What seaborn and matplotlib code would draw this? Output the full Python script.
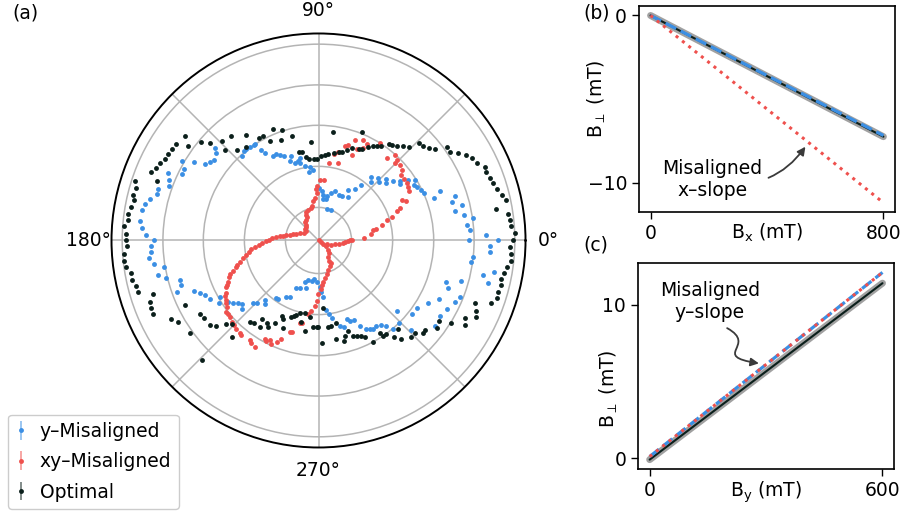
import numpy as np
import matplotlib
matplotlib.use("Agg")
import matplotlib.pyplot as plt
import seaborn as sns
from matplotlib.colors import to_rgba
from matplotlib.path import Path
from matplotlib.patches import FancyArrowPatch

sns.set_style("ticks")
plt.rcParams["font.family"] = ["DejaVu Sans"]
plt.rcParams["mathtext.fontset"] = "dejavusans"
for key in ("text.color", "axes.labelcolor", "xtick.color", "ytick.color"):
    plt.rcParams[key] = "black"

# ---------------------------------------------------------------------------
# (a) in-plane components (u, v) of the perpendicular field during rotation
# ---------------------------------------------------------------------------
optimal_uv = [
    (-399, 312), (-427, 289), (-391, 284), (-439, 274), (-450, 260), (-461, 244),
    (-474, 232), (-488, 217), (-502, 204), (-484, 177), (-551, 179), (-546, 157),
    (-556, 137), (-554, 120), (-562, 99), (-570, 80), (-572, 62), (-584, 42),
    (-576, 20), (-578, 0), (-351, 294), (-326, 292), (-288, 298), (-261, 312),
    (-279, 270), (-243, 270), (-216, 317), (-218, 279), (-179, 307), (-166, 312),
    (-146, 297), (-136, 334), (-108, 332), (-111, 302), (-78, 314), (-22, 295),
    (-58, 266), (-48, 266), (-36, 249), (-28, 244), (-14, 244), (-4, 244),
    (43, 324), (130, 324), (8, 252), (20, 257), (28, 259), (45, 262), (60, 264),
    (71, 265), (86, 270), (100, 277), (120, 275), (131, 275), (148, 280),
    (163, 282), (175, 282), (188, 282), (210, 290), (220, 285), (236, 284),
    (253, 282), (270, 280), (300, 292), (314, 284), (332, 277), (348, 273),
    (386, 281), (394, 266), (418, 262), (443, 257), (461, 246), (476, 232),
    (498, 220), (503, 204), (513, 187), (523, 172), (535, 154), (550, 137),
    (563, 120), (531, 95), (568, 79), (573, 62), (578, 42), (588, 22), (583, 0),
    (575, -20), (578, -40), (578, -60), (566, -78), (556, -98), (546, -116),
    (546, -133), (538, -153), (535, -173), (518, -188), (468, -188), (473, -210),
    (471, -230), (438, -233), (439, -254), (398, -248), (360, -242), (356, -263),
    (320, -268), (314, -278), (288, -278), (278, -288), (246, -294), (238, -264),
    (226, -288), (203, -280), (193, -286), (183, -278), (163, -304), (138, -288),
    (128, -286), (116, -285), (104, -286), (88, -270), (80, -286), (76, -301),
    (53, -294), (53, -248), (38, -255), (28, -260), (13, -203), (10, -306),
    (-2, -258), (-574, -18), (-584, -40), (-584, -60), (-576, -80), (-561, -98),
    (-559, -118), (-546, -136), (-541, -155), (-496, -160), (-506, -183),
    (-501, -202), (-496, -220), (-441, -234), (-421, -243), (-400, -194),
    (-384, -278), (-356, -220), (-343, -232), (-324, -253), (-306, -256),
    (-277, -249), (-260, -250), (-260, -288), (-348, -358), (-206, -243),
    (-194, -246), (-176, -260), (-170, -235), (-154, -248), (-150, -260),
    (-131, -248), (-108, -226), (-106, -236), (-107, -261), (-83, -229),
    (-74, -226), (-66, -224), (-54, -216), (-41, -216), (-26, -230), (-53, -244),
    (-39, -270), (-16, -260), (-5, -260),
]

y_misaligned_uv = [
    (-311, 277), (-308, 262), (-313, 242), (-326, 234), (-341, 230), (-374, 234),
    (-410, 237), (-404, 214), (-408, 199), (-450, 202), (-448, 182), (-448, 162),
    (-480, 155), (-483, 140), (-504, 125), (-519, 110), (-528, 92), (-534, 57),
    (-530, 37), (-516, 17), (-493, 2), (-228, 254), (-224, 267), (-216, 274),
    (-206, 280), (-194, 286), (-189, 289), (-171, 272), (-161, 262), (-136, 252),
    (-126, 259), (-114, 255), (-102, 252), (-86, 237), (-81, 252), (-71, 232),
    (-61, 237), (-54, 247), (-54, 232), (-41, 224), (-26, 220), (-18, 210),
    (-28, 206), (0, 157), (10, 147), (13, 137), (13, 124), (23, 124), (26, 134),
    (36, 142), (48, 147), (60, 137), (70, 134), (88, 152), (88, 130), (110, 155),
    (128, 166), (156, 174), (158, 190), (178, 187), (181, 174), (203, 184),
    (203, 172), (223, 177), (243, 178), (244, 170), (268, 182), (288, 182),
    (286, 167), (296, 160), (308, 152), (316, 142), (346, 127), (363, 147),
    (401, 116), (408, 134), (430, 107), (410, 87), (435, 77), (464, 66),
    (446, 47), (453, 32), (503, 17), (450, 0), (538, 2), (26, 95), (38, 92),
    (513, -18), (513, -36), (463, -48), (456, -64), (493, -104), (508, -126),
    (525, -93), (381, -123), (388, -141), (426, -122), (423, -170), (410, -183),
    (386, -206), (360, -175), (363, -226), (350, -255), (328, -188), (296, -201),
    (281, -219), (278, -268), (236, -212), (241, -248), (224, -266), (203, -256),
    (186, -252), (171, -256), (163, -266), (153, -266), (141, -266), (125, -256),
    (105, -238), (95, -240), (86, -236), (76, -258), (63, -256), (40, -233),
    (32, -220), (23, -208), (13, -170), (6, -154), (3, -138),
    (-501, -18), (-501, -35), (-508, -53), (-493, -70), (-463, -80), (-481, -102),
    (-458, -113), (-416, -118), (-413, -133), (-423, -153), (-373, -150),
    (-356, -156), (-340, -164), (-326, -174), (-296, -168), (-299, -186),
    (-270, -184), (-256, -186), (-242, -188), (-228, -191), (-228, -205),
    (-196, -188), (-184, -188), (-160, -178), (-159, -191), (-126, -173),
    (-121, -176), (-96, -168), (-85, -170), (-66, -141), (-56, -141), (-36, -143),
    (-41, -123), (-31, -118), (-21, -120), (-14, -116), (-6, -123),
]

xy_misaligned_uv = [
    # branch rising from the origin
    (16, 182), (4, 180), (-6, 162), (-8, 154), (-6, 142), (-11, 127), (-16, 117),
    (-21, 104), (-24, 96), (-31, 90), (-36, 84), (-38, 77), (-34, 70), (-38, 62),
    (-41, 54), (-36, 47), (-38, 40), (-41, 34), (-38, 27), (-44, 22),
    # large lower-left lobe
    (-56, 22), (-66, 20), (-76, 19), (-86, 17), (-96, 15), (-106, 14), (-116, 12),
    (-128, 9), (-138, 6), (-148, 2), (-158, -3), (-168, -8), (-178, -14),
    (-191, -20), (-201, -26), (-208, -34), (-218, -43), (-226, -53), (-236, -63),
    (-244, -73), (-248, -78), (-256, -90), (-264, -100), (-268, -110),
    (-271, -123), (-274, -133), (-276, -140), (-278, -158), (-280, -166),
    (-278, -178), (-276, -188), (-274, -198), (-276, -213), (-272, -220),
    (-266, -228), (-258, -243), (-254, -253), (-246, -266), (-236, -276),
    (-231, -283), (-206, -298), (-201, -306), (-191, -320), (-161, -296),
    (-156, -300), (-144, -298), (-141, -310), (-124, -304), (-111, -296),
    (-86, -275), (-78, -273), (-56, -248), (-48, -246), (-31, -221), (-24, -211),
    (-11, -195), (-6, -180), (-1, -160), (6, -146), (9, -133), (14, -123),
    (19, -113), (24, -100), (29, -88), (34, -76), (37, -68), (32, -60), (29, -50),
    (30, -38), (27, -28), (22, -18), (14, -10), (6, -4), (0, 2),
    # short run to the right of the origin
    (24, -11), (37, -13), (49, -11), (62, -11), (72, -8), (79, -5), (87, -1),
    (94, 1), (99, 2),
    # upper-right lobe
    (136, 8), (156, 20), (164, 30), (172, 34), (189, 47), (206, 60), (219, 70),
    (234, 87), (244, 97), (251, 122), (262, 119), (272, 147), (269, 160),
    (264, 172), (256, 184), (247, 197), (249, 212), (244, 227), (229, 232),
    (236, 240), (229, 257), (204, 247), (184, 292), (144, 290), (134, 302),
    (109, 302), (134, 277), (114, 274), (101, 257), (89, 287), (80, 284),
    (57, 264), (46, 260), (59, 232), (30, 232),
]

series_labels = ["y\u2013Misaligned", "xy\u2013Misaligned", "Optimal"]
series_colors = ["#3b8fe4", "#ef504d", "#0b1f1b"]

# ---------------------------------------------------------------------------
# (b), (c) perpendicular field versus applied in-plane field
# ---------------------------------------------------------------------------
bx_mT = [0, 800]
bperp_bx_optimal = [0.0, -7.25]
bperp_bx_y_mis = [0.0, -7.18]
bperp_bx_xy_mis = [0.0, -11.2]

by_mT = [0, 600]
bperp_by_optimal = [-0.1, 11.4]
bperp_by_y_mis = [0.1, 12.1]
bperp_by_xy_mis = [0.1, 12.1]

FS = 13.5
fig = plt.figure(figsize=(9.05, 5.11), dpi=100)

# ---------------------------- polar panel ----------------------------------
axp = fig.add_axes([0.1232, 0.1243, 0.4575, 0.8102], projection="polar")
handles = []
for pts, lab, col in zip([y_misaligned_uv, xy_misaligned_uv, optimal_uv],
                         series_labels, series_colors):
    arr = np.asarray(pts, dtype=float)
    theta = np.arctan2(arr[:, 1], arr[:, 0])
    r = np.hypot(arr[:, 0], arr[:, 1])
    h = axp.errorbar(theta, r, yerr=0.0, fmt="o", ms=3.5, color=col,
                     mec="none", ecolor=to_rgba(col, 0.55), elinewidth=1.3,
                     label=lab, zorder=3)
    handles.append(h)

axp.set_rlim(0, 620)
axp.set_rgrids([99, 222, 345, 466, 588], labels=[""] * 5)
axp.set_thetagrids(range(0, 360, 45),
                   labels=["0°", "", "90°", "", "180°", "", "270°", ""],
                   fontsize=FS)
axp.grid(True, color="#b4b4b4", lw=1.1)
axp.spines["polar"].set_linewidth(1.4)
axp.spines["polar"].set_color("black")
axp.tick_params(axis="x", pad=6)

fig.legend(handles, series_labels, loc="lower left",
           bbox_to_anchor=(8 / 905, 2 / 511), bbox_transform=fig.transFigure,
           borderaxespad=0.0, fontsize=FS, handlelength=0.6, handletextpad=0.7,
           borderpad=0.4, labelspacing=0.6, frameon=True, fancybox=True,
           edgecolor="#cccccc", framealpha=1.0)

# ------------------------------ panel (b) ----------------------------------
axb = fig.add_axes([0.706, 0.585, 0.283, 0.403])
sns.lineplot(x=bx_mT, y=bperp_bx_optimal, ax=axb, color="#7a7a7a", lw=5.0, alpha=0.7)
sns.lineplot(x=bx_mT, y=bperp_bx_optimal, ax=axb, color=series_colors[2], lw=1.5)
sns.lineplot(x=bx_mT, y=bperp_bx_y_mis, ax=axb, color=series_colors[0], lw=2.3,
             linestyle="--")
sns.lineplot(x=bx_mT, y=bperp_bx_xy_mis, ax=axb, color=series_colors[1], lw=2.2,
             linestyle=":")
axb.set_xticks([0, 800])
axb.set_yticks([-10, 0])
axb.set_xlabel(r"B$_\mathrm{x}$ (mT)", fontsize=FS)
axb.set_ylabel(r"B$_\perp$ (mT)", fontsize=FS)
axb.xaxis.set_label_coords(0.5, -0.045)
axb.yaxis.set_label_coords(-0.12, 0.55)
axb.annotate("Misaligned\nx\u2013slope", xy=(532, -7.85), xytext=(213, -9.8),
             ha="center", va="center", fontsize=FS,
             arrowprops=dict(arrowstyle="-|>", color="#3a3a3a", lw=1.3,
                             connectionstyle="arc3,rad=0.35", shrinkA=2,
                             shrinkB=0, mutation_scale=12))

# ------------------------------ panel (c) ----------------------------------
axc = fig.add_axes([0.705, 0.0822, 0.283, 0.403])
sns.lineplot(x=by_mT, y=bperp_by_optimal, ax=axc, color="#7a7a7a", lw=5.0, alpha=0.7)
sns.lineplot(x=by_mT, y=bperp_by_optimal, ax=axc, color=series_colors[2], lw=1.5)
sns.lineplot(x=by_mT, y=bperp_by_y_mis, ax=axc, color=series_colors[0], lw=2.3,
             linestyle="--")
sns.lineplot(x=by_mT, y=bperp_by_xy_mis, ax=axc, color=series_colors[1], lw=2.2,
             linestyle=":")
axc.set_xticks([0, 600])
axc.set_yticks([0, 10])
axc.set_xlabel(r"B$_\mathrm{y}$ (mT)", fontsize=FS)
axc.set_ylabel(r"B$_\perp$ (mT)", fontsize=FS)
axc.xaxis.set_label_coords(0.5, -0.053)
axc.yaxis.set_label_coords(-0.07, 0.39)
axc.text(155, 10.2, "Misaligned\ny\u2013slope", ha="center", va="center",
         fontsize=FS)
squiggle = Path([(0.348, 0.684), (0.47, 0.60), (0.28, 0.55), (0.472, 0.513)],
                [Path.MOVETO, Path.CURVE4, Path.CURVE4, Path.CURVE4])
axc.add_patch(FancyArrowPatch(path=squiggle, transform=axc.transAxes,
                              arrowstyle="-|>", mutation_scale=12,
                              color="#3a3a3a", lw=1.3))

for ax in (axb, axc):
    ax.tick_params(labelsize=FS, length=5, width=1.0)
    for sp in ax.spines.values():
        sp.set_linewidth(1.2)
        sp.set_color("black")

fig.text(12 / 905, 1 - 13 / 511, "(a)", fontsize=FS, va="center")
fig.text(583 / 905, 1 - 13 / 511, "(b)", fontsize=FS, va="center")
fig.text(583 / 905, 1 - 245 / 511, "(c)", fontsize=FS, va="center")

fig.savefig("out.png", dpi=100)
